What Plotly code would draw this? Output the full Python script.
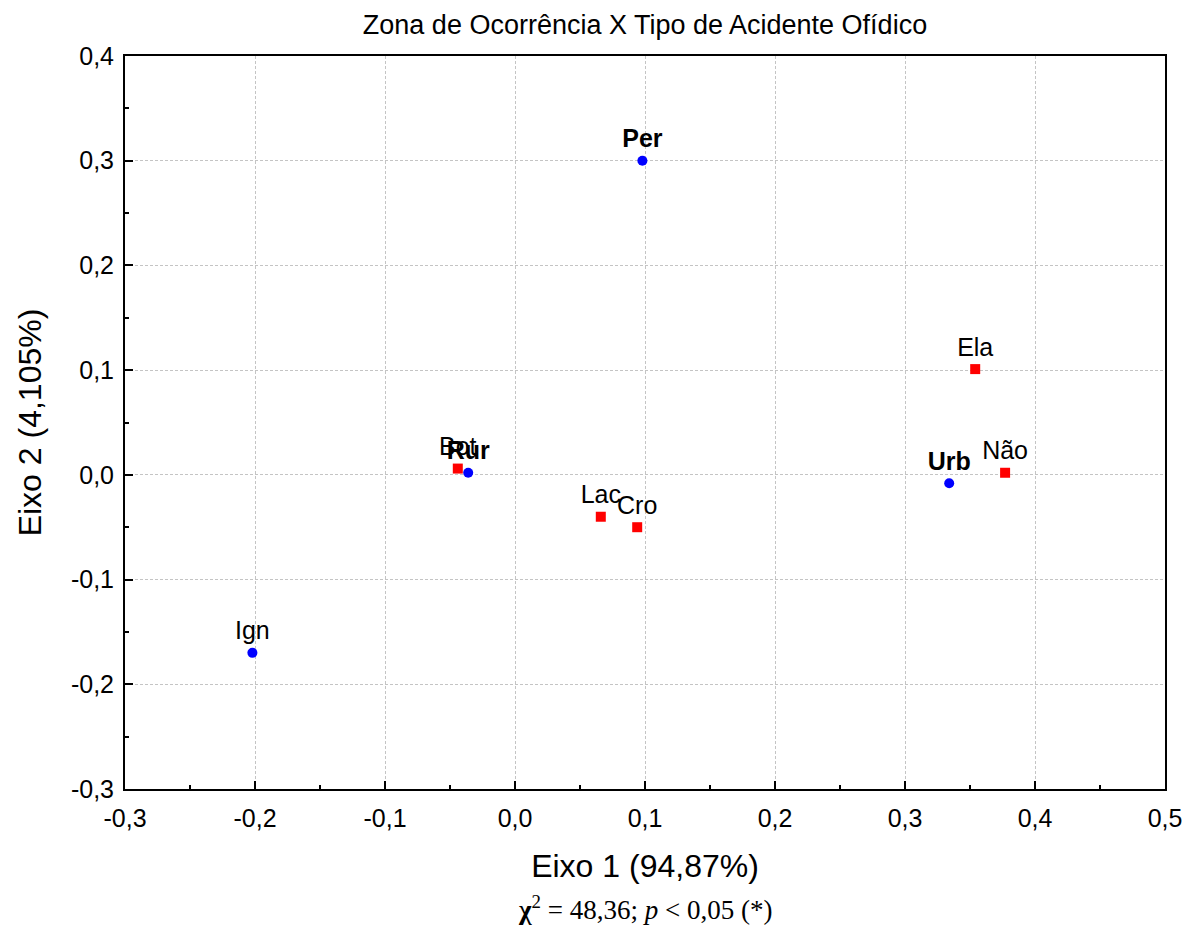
import plotly.graph_objects as go

# Row categories (Zona de Ocorrência)
zona_labels = ["Per", "Rur", "Urb", "Ign"]
zona_x = [0.098, -0.036, 0.334, -0.202]
zona_y = [0.300, 0.002, -0.008, -0.170]
zona_bold = [True, True, True, False]

# Column categories (Tipo de Acidente)
tipo_labels = ["Bot", "Lac", "Cro", "Ela", "Não"]
tipo_x = [-0.044, 0.066, 0.094, 0.354, 0.377]
tipo_y = [0.006, -0.040, -0.050, 0.101, 0.002]

x_ticks = [-0.3, -0.2, -0.1, 0.0, 0.1, 0.2, 0.3, 0.4, 0.5]
x_ticktext = ["-0,3", "-0,2", "-0,1", "0,0", "0,1", "0,2", "0,3", "0,4", "0,5"]
y_ticks = [-0.3, -0.2, -0.1, 0.0, 0.1, 0.2, 0.3, 0.4]
y_ticktext = ["-0,3", "-0,2", "-0,1", "0,0", "0,1", "0,2", "0,3", "0,4"]

SANS = "Liberation Sans, Arial, Helvetica"
SERIF = "Liberation Serif, Times New Roman"

fig = go.Figure()

fig.add_trace(go.Scatter(
    x=tipo_x, y=tipo_y, mode="markers+text",
    text=tipo_labels, textposition="top center",
    textfont=dict(family=SANS, size=25, color="black"),
    marker=dict(symbol="square", size=10, color="#ff0000"),
    showlegend=False, cliponaxis=False))

fig.add_trace(go.Scatter(
    x=zona_x, y=zona_y, mode="markers+text",
    text=[f"<b>{t}</b>" if b else t for t, b in zip(zona_labels, zona_bold)],
    textposition="top center",
    textfont=dict(family=SANS, size=25, color="black"),
    marker=dict(symbol="circle", size=10, color="#0000ff"),
    showlegend=False, cliponaxis=False))

axis_common = dict(
    showline=True, linecolor="black", linewidth=2, mirror=True,
    showgrid=True, gridcolor="#c4c4c4", griddash="3px,2px", gridwidth=1,
    zeroline=False, ticks="inside", ticklen=8, tickcolor="black", tickwidth=1.5,
    tickfont=dict(family=SANS, size=25, color="black"),
    minor=dict(ticks="inside", ticklen=4, tickcolor="black", nticks=5, showgrid=False),
)

fig.update_layout(
    width=1186, height=917,
    paper_bgcolor="white", plot_bgcolor="white",
    separators=",.",
    margin=dict(l=117, r=25, t=48, b=136),
    title=dict(text="Zona de Ocorrência X Tipo de Acidente Ofídico",
               x=0.5, xanchor="center", xref="paper",
               y=1 - 17 / 917, yanchor="middle", yref="container",
               font=dict(family=SANS, size=27, color="black")),
    xaxis=dict(range=[-0.3, 0.5], tickvals=x_ticks, ticktext=x_ticktext,
               ticklabelstandoff=6,
               title=dict(text="Eixo 1 (94,87%)", standoff=24,
                          font=dict(family=SANS, size=32, color="black")),
               **axis_common),
    yaxis=dict(range=[-0.3, 0.4], tickvals=y_ticks, ticktext=y_ticktext,
               ticklabelstandoff=4,
               title=dict(text="Eixo 2 (4,105%)", standoff=20,
                          font=dict(family=SANS, size=32, color="black")),
               **axis_common),
    annotations=[dict(
        text="<b>χ</b><sup>2</sup> = 48,36; <i>p</i> < 0,05 (*)",
        xref="paper", yref="paper", x=0.5, y=-(900 - 781) / 733,
        xanchor="center", yanchor="middle", showarrow=False,
        font=dict(family=SERIF, size=27, color="black"))],
)

fig.write_html("out.html")
